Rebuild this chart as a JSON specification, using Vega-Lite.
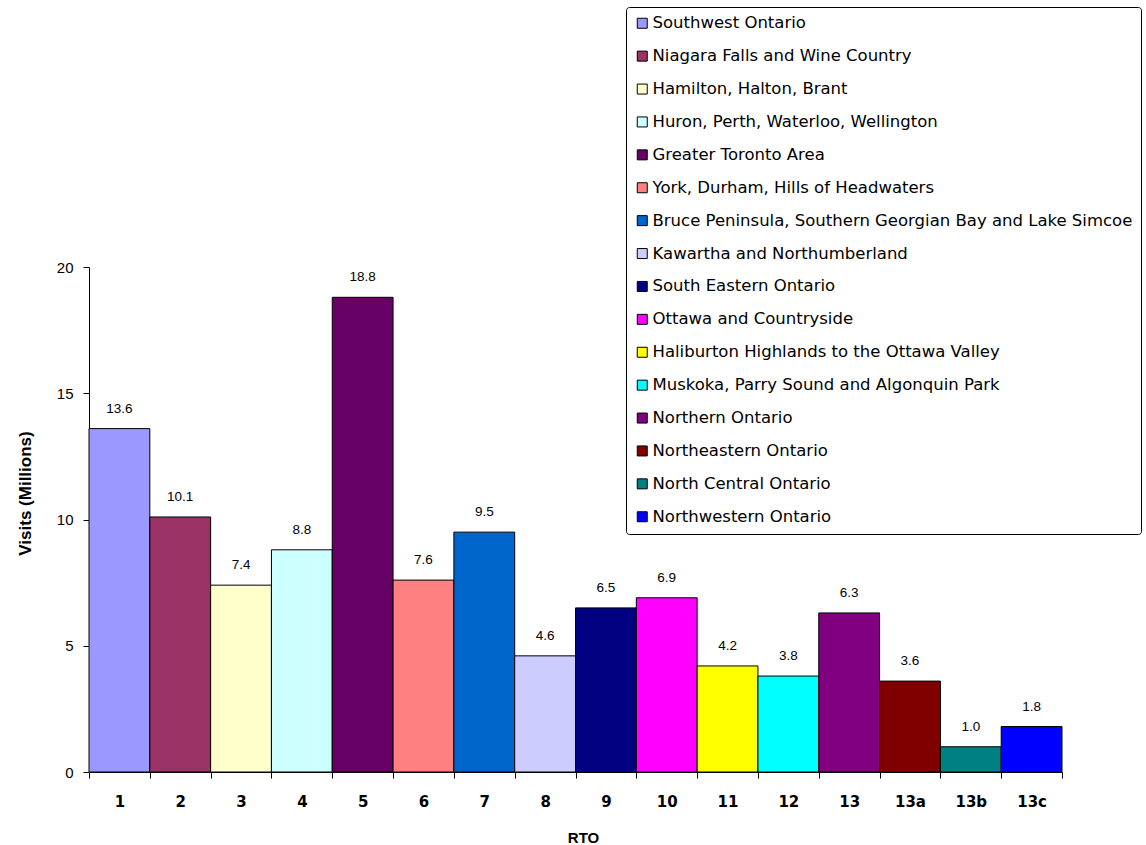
{
  "$schema": "https://vega.github.io/schema/vega-lite/v6.json",
  "width": 973,
  "height": 505,
  "autosize": "none",
  "padding": {"left": 89, "top": 267, "right": 84, "bottom": 73},
  "background": "white",
  "config": {
    "view": {"stroke": null},
    "legend": {
      "strokeColor": "black",
      "cornerRadius": 3,
      "fillColor": "white",
      "symbolStrokeColor": "black",
      "symbolStrokeWidth": 1
    }
  },
  "data": {
    "values": [
      {"rto": "1", "region": "Southwest Ontario", "visits": 13.6},
      {"rto": "2", "region": "Niagara Falls and Wine Country", "visits": 10.1},
      {"rto": "3", "region": "Hamilton, Halton, Brant", "visits": 7.4},
      {"rto": "4", "region": "Huron, Perth, Waterloo, Wellington", "visits": 8.8},
      {"rto": "5", "region": "Greater Toronto Area", "visits": 18.8},
      {"rto": "6", "region": "York, Durham, Hills of Headwaters", "visits": 7.6},
      {"rto": "7", "region": "Bruce Peninsula, Southern Georgian Bay and Lake Simcoe", "visits": 9.5},
      {"rto": "8", "region": "Kawartha and Northumberland", "visits": 4.6},
      {"rto": "9", "region": "South Eastern Ontario", "visits": 6.5},
      {"rto": "10", "region": "Ottawa and Countryside", "visits": 6.9},
      {"rto": "11", "region": "Haliburton Highlands to the Ottawa Valley", "visits": 4.2},
      {"rto": "12", "region": "Muskoka, Parry Sound and Algonquin Park", "visits": 3.8},
      {"rto": "13", "region": "Northern Ontario", "visits": 6.3},
      {"rto": "13a", "region": "Northeastern Ontario", "visits": 3.6},
      {"rto": "13b", "region": "North Central Ontario", "visits": 1.0},
      {"rto": "13c", "region": "Northwestern Ontario", "visits": 1.8}
    ]
  },
  "encoding": {
    "x": {
      "field": "rto",
      "type": "nominal",
      "sort": null,
      "scale": {"paddingInner": 0, "paddingOuter": 0},
      "axis": {
        "title": "RTO",
        "titleFont": "Liberation Sans",
        "titleFontSize": 15,
        "titleFontWeight": "bold",
        "titleColor": "black",
        "titleX": 494,
        "titleY": 65,
        "titleBaseline": "middle",
        "labelAngle": 0,
        "labelFont": "DejaVu Sans",
        "labelFontSize": 15,
        "labelFontWeight": "bold",
        "labelColor": "black",
        "labelPadding": 16,
        "tickBand": "extent",
        "tickSize": 6,
        "tickColor": "black",
        "domainColor": "black",
        "grid": false
      }
    },
    "y": {
      "field": "visits",
      "type": "quantitative",
      "scale": {"domain": [0, 20], "nice": false},
      "axis": {
        "title": "Visits (Millions)",
        "titleFont": "Liberation Sans",
        "titleFontSize": 17,
        "titleFontWeight": "bold",
        "titleColor": "black",
        "titleAngle": -90,
        "titleX": -64,
        "titleY": 226,
        "titleAlign": "center",
        "titleBaseline": "middle",
        "values": [0, 5, 10, 15, 20],
        "labelFont": "Liberation Sans",
        "labelFontSize": 15,
        "labelColor": "black",
        "labelPadding": 10,
        "tickSize": 6,
        "tickColor": "black",
        "domainColor": "black",
        "grid": false
      }
    }
  },
  "layer": [
    {
      "mark": {"type": "bar", "stroke": "black", "strokeWidth": 1},
      "encoding": {
        "color": {
          "field": "region",
          "type": "nominal",
          "scale": {
            "domain": [
              "Southwest Ontario",
              "Niagara Falls and Wine Country",
              "Hamilton, Halton, Brant",
              "Huron, Perth, Waterloo, Wellington",
              "Greater Toronto Area",
              "York, Durham, Hills of Headwaters",
              "Bruce Peninsula, Southern Georgian Bay and Lake Simcoe",
              "Kawartha and Northumberland",
              "South Eastern Ontario",
              "Ottawa and Countryside",
              "Haliburton Highlands to the Ottawa Valley",
              "Muskoka, Parry Sound and Algonquin Park",
              "Northern Ontario",
              "Northeastern Ontario",
              "North Central Ontario",
              "Northwestern Ontario"
            ],
            "range": [
              "#9999FF", "#993366", "#FFFFCC", "#CCFFFF", "#660066", "#FF8080",
              "#0066CC", "#CCCCFF", "#000080", "#FF00FF", "#FFFF00", "#00FFFF",
              "#800080", "#800000", "#008080", "#0000FF"
            ]
          },
          "legend": {
            "title": null,
            "orient": "none",
            "legendX": 537,
            "legendY": -260,
            "padding": 8,
            "symbolType": "square",
            "symbolSize": 100,
            "labelFont": "DejaVu Sans",
            "labelFontSize": 16.5,
            "labelColor": "black",
            "labelOffset": 2,
            "labelLimit": 600,
            "rowPadding": 15.9
          }
        }
      }
    },
    {
      "mark": {
        "type": "text",
        "baseline": "middle",
        "dy": -20,
        "font": "Liberation Sans",
        "fontSize": 13.5,
        "color": "black"
      },
      "encoding": {
        "text": {"field": "visits", "type": "quantitative", "format": ".1f"}
      }
    }
  ]
}
